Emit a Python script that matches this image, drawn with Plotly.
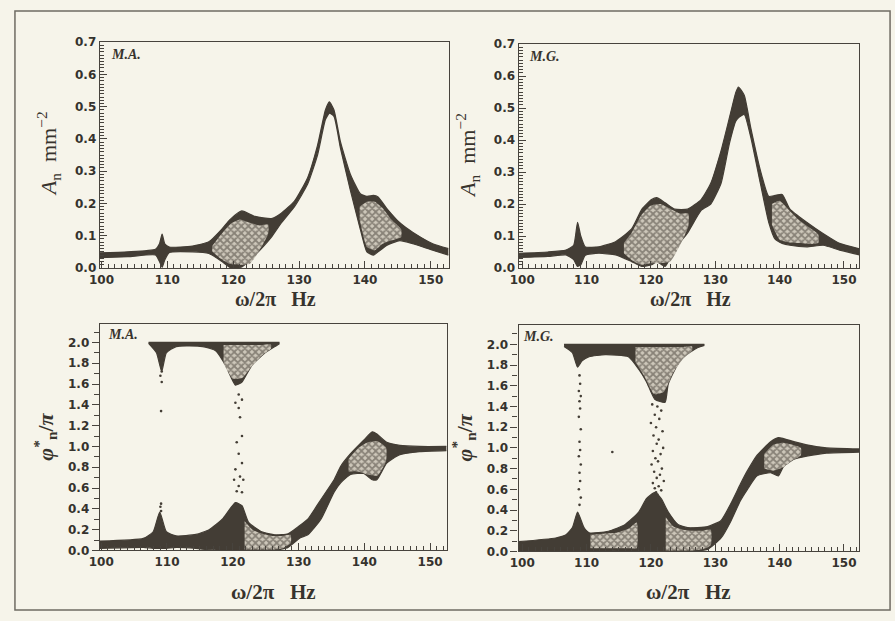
import plotly.graph_objects as go

# ---------------------------------------------------------------------------
# Amplitude spectra A_n (mm^-2): envelope of the curve family
# ---------------------------------------------------------------------------
freq_amp_ma = [99.7, 104, 108.2, 108.8, 109.2, 109.6, 110.3, 113.8, 116.3, 118.3, 119.5,
               121.3, 123.3, 125.8, 127.3, 129.3, 131.3, 132.8, 134.0, 134.6, 135.3,
               136.3, 137.8, 139.3, 140.3, 141.3, 142.0, 143.3, 145.3, 147.3, 150.3, 152.7]
upper_amp_ma = [0.047, 0.050, 0.058, 0.075, 0.105, 0.075, 0.065, 0.068, 0.081, 0.121, 0.150,
                0.177, 0.160, 0.153, 0.170, 0.207, 0.280, 0.380, 0.490, 0.515, 0.490,
                0.390, 0.290, 0.230, 0.222, 0.225, 0.220, 0.185, 0.140, 0.110, 0.075, 0.060]
lower_amp_ma = [0.032, 0.035, 0.040, 0.020, 0.002, 0.025, 0.048, 0.050, 0.045, 0.020, 0.002,
                0.003, 0.040, 0.096, 0.140, 0.190, 0.260, 0.350, 0.460, 0.480, 0.470,
                0.370, 0.240, 0.120, 0.050, 0.040, 0.050, 0.070, 0.085, 0.075, 0.055, 0.040]

freq_amp_mg = [99.4, 104, 106.8, 108.0, 108.6, 109.1, 109.8, 111.9, 114.5, 117.0, 118.6,
               120.1, 120.9, 122.2, 123.7, 125.7, 127.8, 129.3, 130.9, 132.2, 133.2,
               133.6, 134.5, 135.5, 137.0, 138.3, 139.3, 140.4, 141.6, 144.2, 146.8,
               149.3, 152.4]
upper_amp_mg = [0.046, 0.050, 0.056, 0.071, 0.143, 0.100, 0.066, 0.066, 0.082, 0.122, 0.184,
                0.214, 0.220, 0.204, 0.184, 0.184, 0.214, 0.265, 0.367, 0.470, 0.550,
                0.566, 0.540, 0.440, 0.306, 0.224, 0.227, 0.230, 0.184, 0.143, 0.107,
                0.077, 0.060]
lower_amp_mg = [0.033, 0.036, 0.041, 0.026, 0.005, 0.010, 0.040, 0.046, 0.041, 0.020, 0.005,
                0.010, 0.020, 0.005, 0.060, 0.110, 0.180, 0.200, 0.265, 0.390, 0.460,
                0.470, 0.480, 0.410, 0.265, 0.143, 0.090, 0.077, 0.071, 0.066, 0.071,
                0.056, 0.041]

# Cross-hatched (open mesh) parts of the amplitude bands
mesh_amp_ma = [
    dict(f=[116.8, 118, 119.5, 121, 122.5, 124, 125.3],
         top=[0.068, 0.10, 0.135, 0.150, 0.140, 0.132, 0.135],
         bottom=[0.052, 0.030, 0.012, 0.010, 0.012, 0.055, 0.105]),
    dict(f=[139.2, 140.3, 141.5, 142.7, 144, 145.5],
         top=[0.19, 0.205, 0.205, 0.185, 0.15, 0.12],
         bottom=[0.15, 0.065, 0.055, 0.075, 0.085, 0.095]),
]
mesh_amp_mg = [
    dict(f=[115.8, 117, 118.5, 120, 121.5, 123, 124.5, 125.8],
         top=[0.078, 0.11, 0.165, 0.195, 0.20, 0.185, 0.17, 0.17],
         bottom=[0.046, 0.025, 0.010, 0.015, 0.015, 0.02, 0.07, 0.13]),
    dict(f=[138.8, 140, 141.5, 143, 144.5, 146],
         top=[0.20, 0.21, 0.18, 0.15, 0.128, 0.105],
         bottom=[0.135, 0.088, 0.08, 0.078, 0.075, 0.078]),
]

# ---------------------------------------------------------------------------
# Phase spectra phi*_n / pi
# ---------------------------------------------------------------------------
freq_ph_ma = [99.8, 106.4, 107.9, 108.9, 109.9, 111.4, 114.4, 116.4, 118.4, 120.4, 121.4,
              122.4, 124.4, 126.4, 128.4, 130.2, 131.4, 133.4, 135.4, 136.4, 137.9,
              139.9, 141.2, 141.9, 143.4, 145.4, 148.4, 152.5]
upper_ph_ma = [0.09, 0.116, 0.18, 0.37, 0.18, 0.14, 0.154, 0.20, 0.30, 0.46, 0.43,
               0.27, 0.18, 0.15, 0.16, 0.24, 0.30, 0.49, 0.68, 0.81, 0.93,
               1.06, 1.14, 1.12, 1.04, 1.01, 1.00, 1.00]
lower_ph_ma = [0.02, 0.03, 0.02, 0.02, 0.02, 0.03, 0.02, 0.006, 0.0, 0.0, 0.0,
               0.0, 0.0, 0.0, 0.03, 0.12, 0.15, 0.30, 0.56, 0.65, 0.73,
               0.74, 0.68, 0.68, 0.84, 0.92, 0.95, 0.96]
freq_top_ma = [107.2, 108.4, 109.2, 109.9, 111.4, 115.4, 117.4, 118.9, 120.4, 121.4,
               122.9, 124.9, 126.9, 127.1]
lower_top_ma = [1.99, 1.90, 1.72, 1.90, 1.96, 1.96, 1.92, 1.78, 1.59, 1.62,
                1.78, 1.90, 1.98, 1.99]

freq_ph_mg = [99.4, 105.2, 106.8, 107.8, 108.6, 109.6, 110.4, 113.4, 116.0, 118.1, 119.3,
              120.6, 121.6, 122.7, 124.2, 125.7, 128.8, 130.9, 132.4, 133.9, 135.0,
              136.5, 138.6, 139.8, 140.6, 142.2, 144.2, 147.3, 152.4]
upper_ph_mg = [0.094, 0.13, 0.16, 0.23, 0.38, 0.23, 0.18, 0.195, 0.26, 0.38, 0.51,
               0.57, 0.51, 0.38, 0.26, 0.23, 0.24, 0.30, 0.46, 0.65, 0.78,
               0.93, 1.06, 1.10, 1.09, 1.06, 1.03, 1.00, 0.99]
lower_ph_mg = [0.0, 0.01, 0.01, 0.01, 0.01, 0.01, 0.01, 0.01, 0.0, 0.0, 0.0,
               0.0, 0.0, 0.0, 0.0, 0.0, 0.02, 0.13, 0.29, 0.49, 0.60,
               0.73, 0.76, 0.73, 0.82, 0.89, 0.92, 0.95, 0.96]
freq_top_mg = [106.5, 107.8, 108.6, 109.3, 110.4, 112.9, 116.5, 118.1, 119.3, 120.6,
               122.2, 122.7, 124.7, 127.3, 128.3]
lower_top_mg = [1.98, 1.92, 1.78, 1.84, 1.88, 1.90, 1.88, 1.76, 1.64, 1.47,
                1.44, 1.62, 1.86, 1.97, 1.99]

mesh_ph_ma = [
    dict(f=[121.8, 123, 124.5, 126, 127.5, 128.8],
         top=[0.28, 0.20, 0.16, 0.14, 0.14, 0.15],
         bottom=[0.01, 0.01, 0.01, 0.01, 0.02, 0.07]),
    dict(f=[137.6, 139, 140.5, 142, 143.3],
         top=[0.88, 0.98, 1.04, 1.05, 0.99],
         bottom=[0.76, 0.76, 0.73, 0.72, 0.86]),
    dict(f=[118.6, 120, 121.5, 123, 124.5, 125.8],
         top=[1.975, 1.975, 1.975, 1.975, 1.975, 1.98],
         bottom=[1.80, 1.65, 1.66, 1.78, 1.88, 1.94]),
]
mesh_ph_mg = [
    dict(f=[122.3, 123.5, 125, 126.5, 128, 129.3],
         top=[0.33, 0.24, 0.21, 0.20, 0.20, 0.21],
         bottom=[0.01, 0.01, 0.01, 0.01, 0.02, 0.06]),
    dict(f=[110.6, 112.5, 114.5, 116.5, 117.8],
         top=[0.16, 0.17, 0.18, 0.22, 0.28],
         bottom=[0.03, 0.03, 0.03, 0.03, 0.03]),
    dict(f=[137.6, 139, 140.5, 142, 143.3],
         top=[0.94, 1.03, 1.05, 1.03, 1.00],
         bottom=[0.80, 0.78, 0.81, 0.88, 0.93]),
    dict(f=[117.6, 119, 120.5, 122, 123.5, 125, 126.4],
         top=[1.975, 1.975, 1.975, 1.975, 1.975, 1.975, 1.98],
         bottom=[1.83, 1.69, 1.52, 1.54, 1.73, 1.86, 1.94]),
]

# Isolated points where the phase wraps through the gap
dots_f_ma = [109.1, 109.2, 109.0, 109.2, 109.1, 109.0, 109.1,
             120.9, 121.4, 120.4, 120.9, 121.1, 121.4, 120.6, 120.9, 121.4, 120.4,
             121.1, 120.2, 121.6, 120.9, 120.6, 121.4]
dots_p_ma = [1.34, 1.62, 1.68, 1.72, 0.45, 0.42, 0.38,
             1.50, 1.45, 1.42, 1.37, 1.28, 1.10, 1.04, 0.93, 0.84, 0.78,
             0.71, 0.68, 0.68, 0.62, 0.57, 0.56]
dots_f_mg = [108.9, 109.0, 108.8, 109.1, 108.9, 109.0, 108.8, 109.1, 108.9, 109.0,
             108.8, 109.1, 108.9, 109.0, 108.8, 109.1, 108.9, 114.0,
             120.2, 121.0, 121.6, 120.6, 121.3, 120.0, 120.8, 121.8, 120.4, 121.2,
             120.9, 121.9, 120.3, 121.5, 120.7, 121.1, 120.1, 121.7, 120.5, 121.4,
             120.9, 122.0, 120.3, 121.2, 120.6, 121.6, 120.8, 121.0]
dots_p_mg = [1.70, 1.62, 1.55, 1.50, 1.45, 1.38, 1.30, 1.18, 1.06, 0.98,
             0.92, 0.84, 0.76, 0.68, 0.60, 0.52, 0.45, 0.96,
             1.42, 1.40, 1.36, 1.32, 1.28, 1.24, 1.20, 1.16, 1.12, 1.08,
             1.04, 1.00, 0.97, 0.94, 0.90, 0.87, 0.84, 0.80, 0.77, 0.74,
             0.71, 0.68, 0.66, 0.63, 0.61, 0.59, 0.57, 0.55]

# ---------------------------------------------------------------------------
INK = "#433d35"
PAPER = "#f6f4ea"
AXIS = "#47433d"
W, H = 895, 621


def px_x(p):
    return p / W


def px_y(p):
    return 1 - p / H


fig = go.Figure()


def add_band(f, up, lo, ax):
    xa, ya = ax
    line = dict(color=INK, width=1.2, shape="spline", smoothing=0.5)
    fig.add_trace(go.Scatter(x=f, y=lo, mode="lines", line=line, xaxis=xa, yaxis=ya, hoverinfo="skip"))
    fig.add_trace(go.Scatter(x=f, y=up, mode="lines", line=line, fill="tonexty", fillcolor=INK,
                             xaxis=xa, yaxis=ya, hoverinfo="skip"))


def add_mesh(m, ax):
    xa, ya = ax
    fig.add_trace(go.Scatter(x=m["f"] + m["f"][::-1], y=m["top"] + m["bottom"][::-1], mode="lines",
                             line=dict(width=0, shape="spline", smoothing=0.5), fill="toself",
                             fillcolor="rgba(0,0,0,0)",
                             fillpattern=dict(shape="x", fgcolor=INK, bgcolor="#cdc7ba", size=5, solidity=0.6),
                             xaxis=xa, yaxis=ya, hoverinfo="skip"))


def add_dots(f, p, ax):
    xa, ya = ax
    fig.add_trace(go.Scatter(x=f, y=p, mode="markers", marker=dict(color=INK, size=2.6),
                             xaxis=xa, yaxis=ya, hoverinfo="skip"))


AX_TL, AX_TR, AX_BL, AX_BR = ("x", "y"), ("x2", "y2"), ("x3", "y3"), ("x4", "y4")

add_band(freq_amp_ma, upper_amp_ma, lower_amp_ma, AX_TL)
for m in mesh_amp_ma:
    add_mesh(m, AX_TL)
add_band(freq_amp_mg, upper_amp_mg, lower_amp_mg, AX_TR)
for m in mesh_amp_mg:
    add_mesh(m, AX_TR)

add_band(freq_ph_ma, upper_ph_ma, lower_ph_ma, AX_BL)
add_band(freq_top_ma, [2.0] * len(freq_top_ma), lower_top_ma, AX_BL)
for m in mesh_ph_ma:
    add_mesh(m, AX_BL)
add_dots(dots_f_ma, dots_p_ma, AX_BL)

add_band(freq_ph_mg, upper_ph_mg, lower_ph_mg, AX_BR)
add_band(freq_top_mg, [2.0] * len(freq_top_mg), lower_top_mg, AX_BR)
for m in mesh_ph_mg:
    add_mesh(m, AX_BR)
add_dots(dots_f_mg, dots_p_mg, AX_BR)

tick_font = dict(family="DejaVu Sans", size=12, color="#35322d", weight="bold")


def xaxis(dom, rng, anchor):
    return dict(domain=dom, range=rng, anchor=anchor, showline=True, linecolor=AXIS, linewidth=1.4, mirror=True,
                tickmode="linear", tick0=100, dtick=10,
                ticks="inside", ticklen=7, tickcolor=AXIS, tickwidth=1.3,
                tickfont=tick_font, showgrid=False, zeroline=False,
                minor=dict(ticks="inside", ticklen=4, tickmode="linear", tick0=100, dtick=1,
                           tickcolor=AXIS, tickwidth=1, showgrid=False))


def yaxis_amp(dom, anchor):
    return dict(domain=dom, range=[0, 0.7], anchor=anchor, showline=True, linecolor=AXIS, linewidth=1.4,
                mirror=True, tickmode="linear", tick0=0, dtick=0.1,
                ticks="inside", ticklen=7, tickcolor=AXIS, tickwidth=1.3,
                tickformat=".1f", tickfont=tick_font, showgrid=False, zeroline=False,
                minor=dict(ticks="inside", ticklen=4, tickmode="linear", tick0=0, dtick=0.01,
                           tickcolor=AXIS, tickwidth=1, showgrid=False))


def yaxis_ph(dom, anchor, top):
    return dict(domain=dom, range=[0, top], anchor=anchor, showline=True, linecolor=AXIS, linewidth=1.4,
                mirror=True, tickmode="linear", tick0=0, dtick=0.2,
                ticks="outside", ticklen=7, tickcolor=AXIS, tickwidth=1.3,
                tickformat=".1f", tickfont=tick_font, showgrid=False, zeroline=False,
                minor=dict(ticks="outside", ticklen=5, tickmode="linear", tick0=0, dtick=0.1,
                           tickcolor=AXIS, tickwidth=1, showgrid=False))


fig.update_layout(
    width=W, height=H, margin=dict(l=0, r=0, t=0, b=0),
    paper_bgcolor=PAPER, plot_bgcolor=PAPER, showlegend=False,
    xaxis=xaxis([px_x(90), px_x(443)], [99.75, 152.7], "y"),
    yaxis=yaxis_amp([px_y(267), px_y(36)], "x"),
    xaxis2=xaxis([px_x(514), px_x(859)], [99.45, 152.4], "y2"),
    yaxis2=yaxis_amp([px_y(267), px_y(38)], "x2"),
    xaxis3=xaxis([px_x(90), px_x(441)], [99.8, 152.5], "y3"),
    yaxis3=yaxis_ph([px_y(556), px_y(324)], "x3", 2.18),
    xaxis4=xaxis([px_x(514), px_x(859)], [99.45, 152.4], "y4"),
    yaxis4=yaxis_ph([px_y(557), px_y(325)], "x4", 2.19),
)

serif = "Liberation Serif"
ann = []


def note(text, x, y, size, angle=0, xanchor="center"):
    ann.append(dict(text=text, x=px_x(x), y=px_y(y), xref="paper", yref="paper", showarrow=False,
                    font=dict(family=serif, size=size, color="#37332d"), textangle=angle,
                    xanchor=xanchor, yanchor="middle"))


xlab = "<b>ω/2π   Hz</b>"
note(xlab, 268, 299, 20)
note(xlab, 688, 299, 20)
note(xlab, 266, 599, 21)
note(xlab, 686, 599, 21)
ylab_amp = "<i>A</i><sub>n</sub>  mm<sup>−2</sup>"
note(ylab_amp, 38, 150, 22, angle=-90)
note(ylab_amp, 462, 152, 22, angle=-90)
ylab_ph = "<b><i>φ</i><sup>*</sup><sub>n</sub>/<i>π</i></b>"
note(ylab_ph, 34, 440, 22, angle=-90)
note(ylab_ph, 458, 440, 22, angle=-90)
note("<b><i>M.A.</i></b>", 99, 49, 14, xanchor="left")
note("<b><i>M.G.</i></b>", 522, 51, 14, xanchor="left")
note("<b><i>M.A.</i></b>", 96, 335, 14, xanchor="left")
note("<b><i>M.G.</i></b>", 516, 337, 14, xanchor="left")

fig.update_layout(annotations=ann)

# outer frame around the whole figure
fig.add_shape(type="rect", xref="paper", yref="paper", x0=px_x(4), x1=px_x(890), y0=px_y(617), y1=px_y(4),
              line=dict(color="#6f6b63", width=1.5), fillcolor="rgba(0,0,0,0)")

fig.write_html("out.html")
